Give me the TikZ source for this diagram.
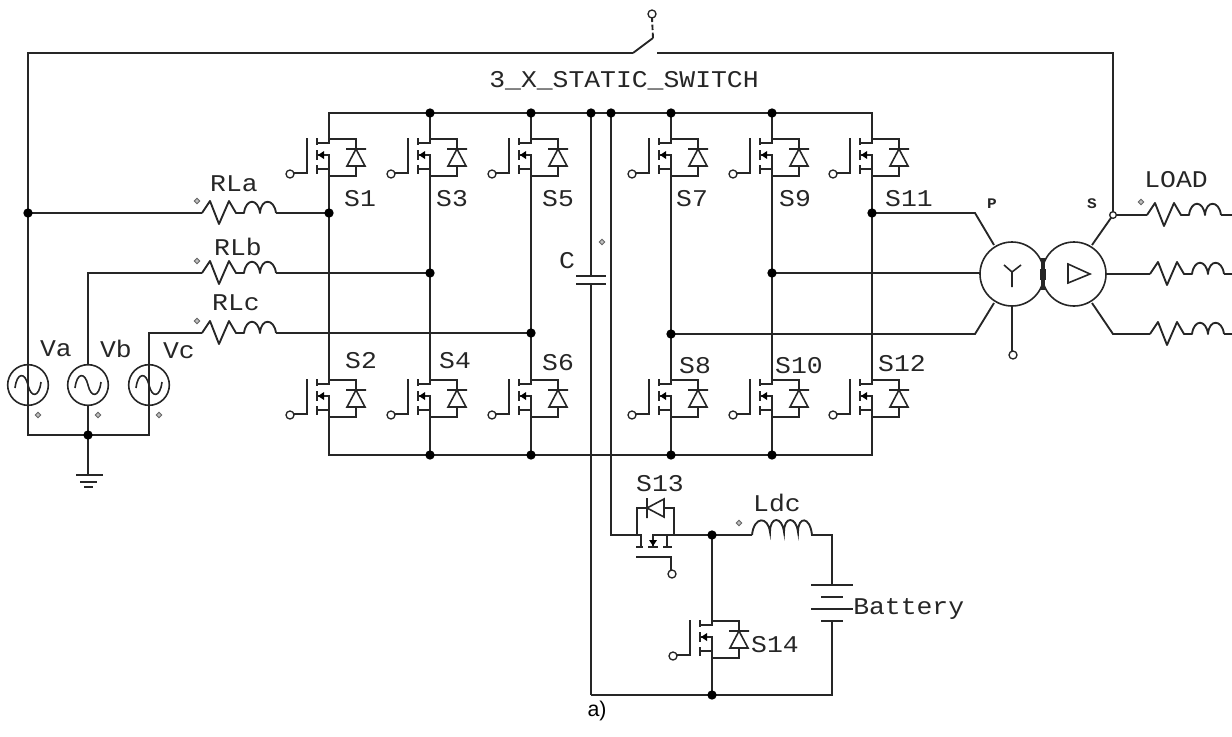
\documentclass[tikz,border=0pt]{standalone}
\usepackage{fontspec}
\setmainfont{Liberation Sans}
\newfontfamily\lab[FakeStretch=1.1]{Liberation Mono}
\tikzset{
  wire/.style={line width=1.4pt,line join=miter,black!85},
  thin wire/.style={line width=1.2pt,black!85},
  junction/.style={circle,fill=black,inner sep=0pt,minimum size=7pt},
  terminal/.style={circle,draw=black!85,line width=1pt,fill=white,inner sep=0pt,minimum size=6pt},
  polarity/.style={diamond,draw=black!60,fill=black!25,line width=.7pt,inner sep=0pt,minimum size=4.5pt},
  lbl/.style={font=\lab\fontsize{18}{18}\selectfont,inner sep=0pt,text=black!85},
  smalllbl/.style={font=\lab\bfseries\fontsize{11}{11}\selectfont,inner sep=0pt,text=black!85},
  source/.style={circle,draw=black!85,line width=1.2pt,inner sep=0pt,minimum size=30.5pt},
  winding/.style={circle,draw=black!85,line width=1.2pt,inner sep=0pt,minimum size=48pt},
  sw/.pic={
    \coordinate (-top) at (0,0);
    \coordinate (-bot) at (0,37);
    \coordinate (-gate) at (-36,34);
    \draw[wire] (-22,-1) -- (-22,34) -- (-36,34);
    \draw[wire] (-12,-1) -- (-12,6) (-12,11) -- (-12,21) (-12,26) -- (-12,35);
    \draw[wire] (-12,4) -- (0,4) -- (0,0) -- (27,0) -- (27,10);
    \draw[wire] (-12,16) -- (0,16) -- (0,37) -- (27,37) -- (27,27);
    \draw[wire] (-12,30) -- (0,30);
    \fill[black] (-11,16) -- (-5,12) -- (-5,20) -- cycle;
    \draw[thin wire] (17,10) -- (37,10) (27,10) -- (18,27) -- (36,27) -- cycle;
    \node[terminal] at (-39,35) {};
  },
  rl/.pic={
    \draw[wire,line join=round] (0,0) -- (8,-12) -- (17,11) -- (27,-12) -- (34,0) -- (42,0)
      .. controls (44,-15) and (56,-15) .. (58,0)
      .. controls (59,-15) and (72,-15) .. (74,0);
  }
}
\usetikzlibrary{shapes.geometric}
\begin{document}
\begin{tikzpicture}[x=0.75pt,y=-0.75pt]
\useasboundingbox (0,0) rectangle (1232,736);

% named junctions
\foreach \n/\x/\y in {
  ttl/28/53, tsw/633/53, tsr/657/53, ttr/1113/53,
  ja/28/213, ra/202/213, rae/276/213, jA/329/213,
  tb/88/273, rb/202/273, rbe/276/273, jB/430/273,
  tc/149/333, rc/202/333, rce/276/333, jC/531/333,
  bl/28/435, jg/88/435, br/149/435, gnd/88/475,
  bus1/329/113, j3/430/113, j5/531/113, jc/591/113, jd/611/113, j7/671/113, j9/772/113, bus2/872/113,
  bbus1/329/455, b3/430/455, b5/531/455, b7/671/455, b9/772/455, bbus2/872/455,
  capt/591/276, capb/591/284, capl/591/695,
  jP/872/213, jQ/772/273, jR/671/334,
  p1/975/213, p2/980/273, p3/975/334,
  s1/1113/215, s3/1113/334,
  l1/1147/215, l2/1150/274, l3/1150/334,
  l1e/1221/215, l2e/1224/274, l3e/1224/334,
  l1x/1232/215, l2x/1232/274, l3x/1232/334,
  dcl/611/535, s13d/637/535, jm/712/535, lds/752/535, ldc/832/535,
  bat1/832/585, bat2/832/621, batc/832/695, jbot/712/695, bleft/591/695, batt/853/609}
  \coordinate (\n) at (\x,\y);

% static switch
\draw[wire] (tsw) -- (ttl) -- (bl) -- (br) -- (br|-tc);
\draw[wire] (tsr) -- (ttr) -- (s1);
\coordinate (swt) at (653,38);
\coordinate (swg) at (652,18);
\draw[wire] (tsw) -- (swt);
\draw[wire,dash pattern=on 4pt off 2pt] (swt) -- (swg);
\node[terminal] (swterm) at (652,14) {};
\node[lbl] (swlabel) at (624,81) {3\_X\_STATIC\_SWITCH};

% sources
\node[source] (va) at (28,385) {};
\node[source] (vb) at (88,385) {};
\node[source] (vc) at (149,385) {};
\foreach \c in {28,88,149}
  \draw[thin wire] (\c-13,388) .. controls (\c-11,372) and (\c-3,372) .. (\c,385)
     .. controls (\c+3,398) and (\c+11,398) .. (\c+13,382);
\draw[wire] (jg) -- (gnd);
\draw[wire] (vb.north) -- (tb) -- (rb);
\draw[wire] (vc.north) -- (tc) -- (rc);
\draw[wire] (vb.south) -- (jg);
\draw[wire] (ja) -- (ra);
\draw[wire] (rae) -- (jA);
\draw[wire] (rbe) -- (jB);
\draw[wire] (rce) -- (jC);
\draw[wire] (76,475) -- (103,475) (80,482) -- (97,482) (84,487) -- (93,487);
\node[lbl] (lva) at (56,349) {Va};
\node[lbl] (lvb) at (116,349) {Vb};
\node[lbl] (lvc) at (179,351) {Vc};
\foreach \x in {38,98,159} \node[polarity] at (\x,415) {};

% RL branches
\pic at (ra) {rl};
\pic at (rb) {rl};
\pic at (rc) {rl};
\foreach \y in {201,261,321} \node[polarity] at (197,\y) {};
\node[lbl] (lrla) at (234,184) {RLa};
\node[lbl] (lrlb) at (238,247) {RLb};
\node[lbl] (lrlc) at (236,303) {RLc};

% switches: top row
\pic (q1) at (329,139) {sw};
\pic (q3) at (430,139) {sw};
\pic (q5) at (531,139) {sw};
\pic (q7) at (671,139) {sw};
\pic (q9) at (772,139) {sw};
\pic (q11) at (872,139) {sw};
% bottom row
\pic (q2) at (329,380) {sw};
\pic (q4) at (430,380) {sw};
\pic (q6) at (531,380) {sw};
\pic (q8) at (671,380) {sw};
\pic (q10) at (772,380) {sw};
\pic (q12) at (872,380) {sw};

\draw[wire] (q1-top) -- (bus1) -- (bus2) -- (q11-top);
\draw[wire] (q2-bot) -- (bbus1) -- (bbus2) -- (q12-bot);
\foreach \t/\bb in {q1/q2, q3/q4, q5/q6, q7/q8, q9/q10, q11/q12}
  \draw[wire] (\t-bot) -- (\bb-top);
\draw[wire] (q3-top) -- (j3);
\draw[wire] (q5-top) -- (j5);
\draw[wire] (q7-top) -- (j7);
\draw[wire] (q9-top) -- (j9);
\draw[wire] (q4-bot) -- (b3);
\draw[wire] (q6-bot) -- (b5);
\draw[wire] (q8-bot) -- (b7);
\draw[wire] (q10-bot) -- (b9);

\foreach \n/\x/\y in {S1/360/199, S3/452/199, S5/558/199, S7/692/199, S9/795/199, S11/909/199,
  S2/361/361, S4/455/361, S6/558/363, S8/695/366, S10/799/366, S12/902/364}
  \node[lbl] (n\n) at (\x,\y) {\n};

% capacitor and dc link
\draw[wire] (jc) -- (capt);
\draw[wire] (capb) -- (capl);
\draw[wire] (576,276) -- (606,276) (576,284) -- (606,284);
\draw[wire] (jd) -- (dcl) -- (s13d);
\node[polarity] at (602,242) {};
\node[lbl] (lc) at (567,261) {C};

% transformer
\node[winding] (tp) at (1012,274) {};
\node[winding] (ts) at (1074,274) {};
\draw[wire] (jP) -- (p1) -- (994,245);
\draw[wire] (jQ) -- (p2);
\draw[wire] (jR) -- (p3) -- (994,303);
\draw[wire] (tp.south) -- (1012,352);
\node[terminal] (tn) at (1013,355) {};
\draw[thin wire] (1012,272) -- (1004,265) (1012,272) -- (1021,265) (1012,272) -- (1012,287);
\draw[thin wire] (1068,264) -- (1090,274) -- (1068,283) -- cycle;
\draw[line width=3pt,black!85] (1043,258) -- (1043,270) (1043,279) -- (1043,290);
\draw[thin wire] (1041,270) rectangle (1045,279);
\node[smalllbl] (lp) at (992,204) {P};
\node[smalllbl] (ls) at (1092,204) {S};
\draw[wire] (1092,245) -- (s1) -- (l1);
\draw[wire] (ts.east) -- (l2);
\draw[wire] (1092,303) -- (s3) -- (l3);
\node[terminal,minimum size=5pt] (sterm) at (s1) {};
\pic at (l1) {rl};
\pic at (l2) {rl};
\pic at (l3) {rl};
\draw[wire] (l1e) -- (l1x);
\draw[wire] (l2e) -- (l2x);
\draw[wire] (l3e) -- (l3x);
\node[polarity] at (1141,202) {};
\node[lbl] (lload) at (1176,180) {LOAD};

% chopper
\pic[rotate=90] (q13) at (s13d) {sw};
\draw[wire] (q13-bot) -- (jm) -- (lds);
\node[lbl] (ls13) at (660,484) {S13};
\pic (q14) at (712,621) {sw};
\node[lbl] (ls14) at (775,645) {S14};
\draw[wire] (jm) -- (q14-top);
\draw[wire] (q14-bot) -- (jbot);
\draw[wire] (bleft) -- (batc) -- (bat2);
\draw[wire] (lds) .. controls (754,516) and (768,516) .. (770,532)
  .. controls (770,516) and (782,516) .. (784,532)
  .. controls (784,516) and (796,516) .. (798,532)
  .. controls (798,516) and (810,516) .. (812,535) -- (ldc) -- (bat1);
\node[polarity] at (739,523) {};
\node[lbl] (lldc) at (777,503) {Ldc};
\draw[wire] (811,585) -- (853,585) (821,597) -- (843,597) (811,609) -- (853,609) (821,621) -- (843,621);
\node[lbl,anchor=west] (lbat) at (batt) {Battery};
\node[font=\fontsize{16}{16}\selectfont,inner sep=0pt] (cap) at (597,711) {a)};

% junction dots
\foreach \p in {ja,jA,jB,jC,jg,j3,j5,jc,jd,j7,j9,b3,b5,b7,b9,jP,jQ,jR,jm,jbot}
  \node[junction] at (\p) {};
\end{tikzpicture}
\end{document}
